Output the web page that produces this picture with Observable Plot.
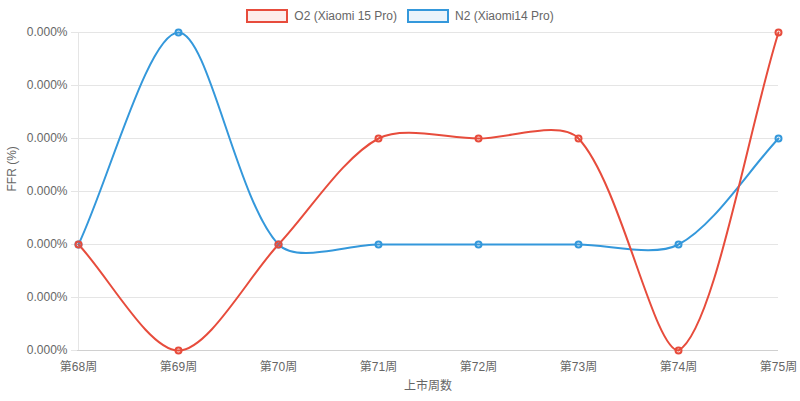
<!DOCTYPE html>
<html>
<head>
<meta charset="utf-8">
<script src="https://cdn.jsdelivr.net/npm/d3@7"></script>
<script src="https://cdn.jsdelivr.net/npm/@observablehq/plot@0.6"></script>
<style>
  html, body { margin: 0; padding: 0; background: #fff; }
  body { width: 800px; height: 401px; overflow: hidden; font-family: "Liberation Sans", Arial, "Noto Sans CJK SC", sans-serif; }
  #legend { height: 24px; display: flex; justify-content: center; align-items: center; font-size: 12px; color: #666; padding-top: 8px; box-sizing: border-box; }
  .item { display: flex; align-items: center; margin: 0 5px; }
  .box { width: 38px; height: 10px; border-width: 2px; border-style: solid; margin-right: 6px; }
  #chart svg { display: block; }
</style>
</head>
<body>
<div id="legend"></div>
<div id="chart"></div>
<script>
const weeks = ["第68周", "第69周", "第70周", "第71周", "第72周", "第73周", "第74周", "第75周"];
const seriesNames = ["O2 (Xiaomi 15 Pro)", "N2 (Xiaomi14 Pro)"];
const seriesColors = ["#e74c3c", "#3498db"];
const seriesFills = ["rgba(231,76,60,0.1)", "rgba(52,152,219,0.1)"];
const o2Values = [0.0001, 0, 0.0001, 0.0002, 0.0002, 0.0002, 0, 0.0003];
const n2Values = [0.0001, 0.0003, 0.0001, 0.0001, 0.0001, 0.0001, 0.0001, 0.0002];
const yTicks = [0, 0.00005, 0.0001, 0.00015, 0.0002, 0.00025, 0.0003];

const W = 800, H = 377;
const mTop = 8, mBottom = 51, mLeft = 77, mRight = 22;
const area = {left: mLeft, right: W - mRight, top: mTop, bottom: H - mBottom};

// legend
const legend = document.getElementById("legend");
seriesNames.forEach((n, i) => {
  const it = document.createElement("div");
  it.className = "item";
  const b = document.createElement("div");
  b.className = "box";
  b.style.borderColor = seriesColors[i];
  b.style.background = seriesFills[i];
  const t = document.createElement("span");
  t.textContent = n;
  it.appendChild(b); it.appendChild(t);
  legend.appendChild(it);
});

// Chart.js-like spline curve (tension 0.3, capped to chart area)
function chartjsCurve(context) {
  let pts = [];
  const T = 0.3;
  const cap = (v, lo, hi) => Math.max(Math.min(v, hi), lo);
  return {
    areaStart() {}, areaEnd() {},
    lineStart() { pts = []; },
    point(x, y) { pts.push({x: +x, y: +y}); },
    lineEnd() {
      const n = pts.length;
      if (!n) return;
      const cps = pts.map((cur, i) => {
        const prev = i > 0 ? pts[i - 1] : cur;
        const next = i < n - 1 ? pts[i + 1] : cur;
        const d01 = Math.hypot(cur.x - prev.x, cur.y - prev.y);
        const d12 = Math.hypot(next.x - cur.x, next.y - cur.y);
        let s01 = d01 / (d01 + d12), s12 = d12 / (d01 + d12);
        if (isNaN(s01)) s01 = 0; if (isNaN(s12)) s12 = 0;
        const fa = T * s01, fb = T * s12;
        const p = {x: cur.x - fa * (next.x - prev.x), y: cur.y - fa * (next.y - prev.y)};
        const q = {x: cur.x + fb * (next.x - prev.x), y: cur.y + fb * (next.y - prev.y)};
        [p, q].forEach(c => { c.x = cap(c.x, area.left, area.right); c.y = cap(c.y, area.top, area.bottom); });
        return {p, q};
      });
      context.moveTo(pts[0].x, pts[0].y);
      for (let i = 1; i < n; i++) {
        const a = cps[i - 1].q, b = cps[i].p;
        context.bezierCurveTo(a.x, a.y, b.x, b.y, pts[i].x, pts[i].y);
      }
    }
  };
}

const data = [];
weeks.forEach((w, i) => data.push({week: w, value: n2Values[i], series: seriesNames[1]}));
weeks.forEach((w, i) => data.push({week: w, value: o2Values[i], series: seriesNames[0]}));

const plot = Plot.plot({
  width: W, height: H,
  marginTop: mTop, marginBottom: mBottom, marginLeft: mLeft, marginRight: mRight,
  style: {fontFamily: '"Liberation Sans", Arial, "Noto Sans CJK SC", sans-serif', fontSize: "12px", color: "#666", background: "#fff"},
  x: {type: "point", domain: weeks, padding: 0, label: null},
  y: {domain: [0, 0.0003], label: null},
  color: {domain: seriesNames, range: seriesColors},
  marks: [
    Plot.gridY(yTicks, {stroke: "#e5e5e5", strokeOpacity: 1, strokeWidth: 1}),
    Plot.ruleX([weeks[0]], {stroke: "#e5e5e5"}),
    Plot.ruleY([0], {stroke: "#d0d0d0"}),
    Plot.axisY(yTicks, {tickSize: 6, stroke: "#e5e5e5", tickPadding: 4, tickFormat: d => d.toFixed(3) + "%", fill: "#666", fontSize: 12, label: null}),
    Plot.axisX(weeks, {tickSize: 0, tickPadding: 12, fill: "#666", fontSize: 12, label: null}),
    Plot.text(["上市周数"], {frameAnchor: "bottom", dy: 39, fill: "#666", fontSize: 12}),
    Plot.text(["FFR (%)"], {frameAnchor: "left", dx: -65, rotate: -90, fill: "#666", fontSize: 12}),
    Plot.line(data, {x: "week", y: "value", z: "series", stroke: "series", strokeWidth: 2, curve: chartjsCurve}),
    Plot.dot(data, {x: "week", y: "value", stroke: "series", r: 3, strokeWidth: 2, fill: d => d.series === seriesNames[0] ? seriesFills[0] : seriesFills[1]})
  ]
});
document.getElementById("chart").appendChild(plot);
</script>
</body>
</html>
